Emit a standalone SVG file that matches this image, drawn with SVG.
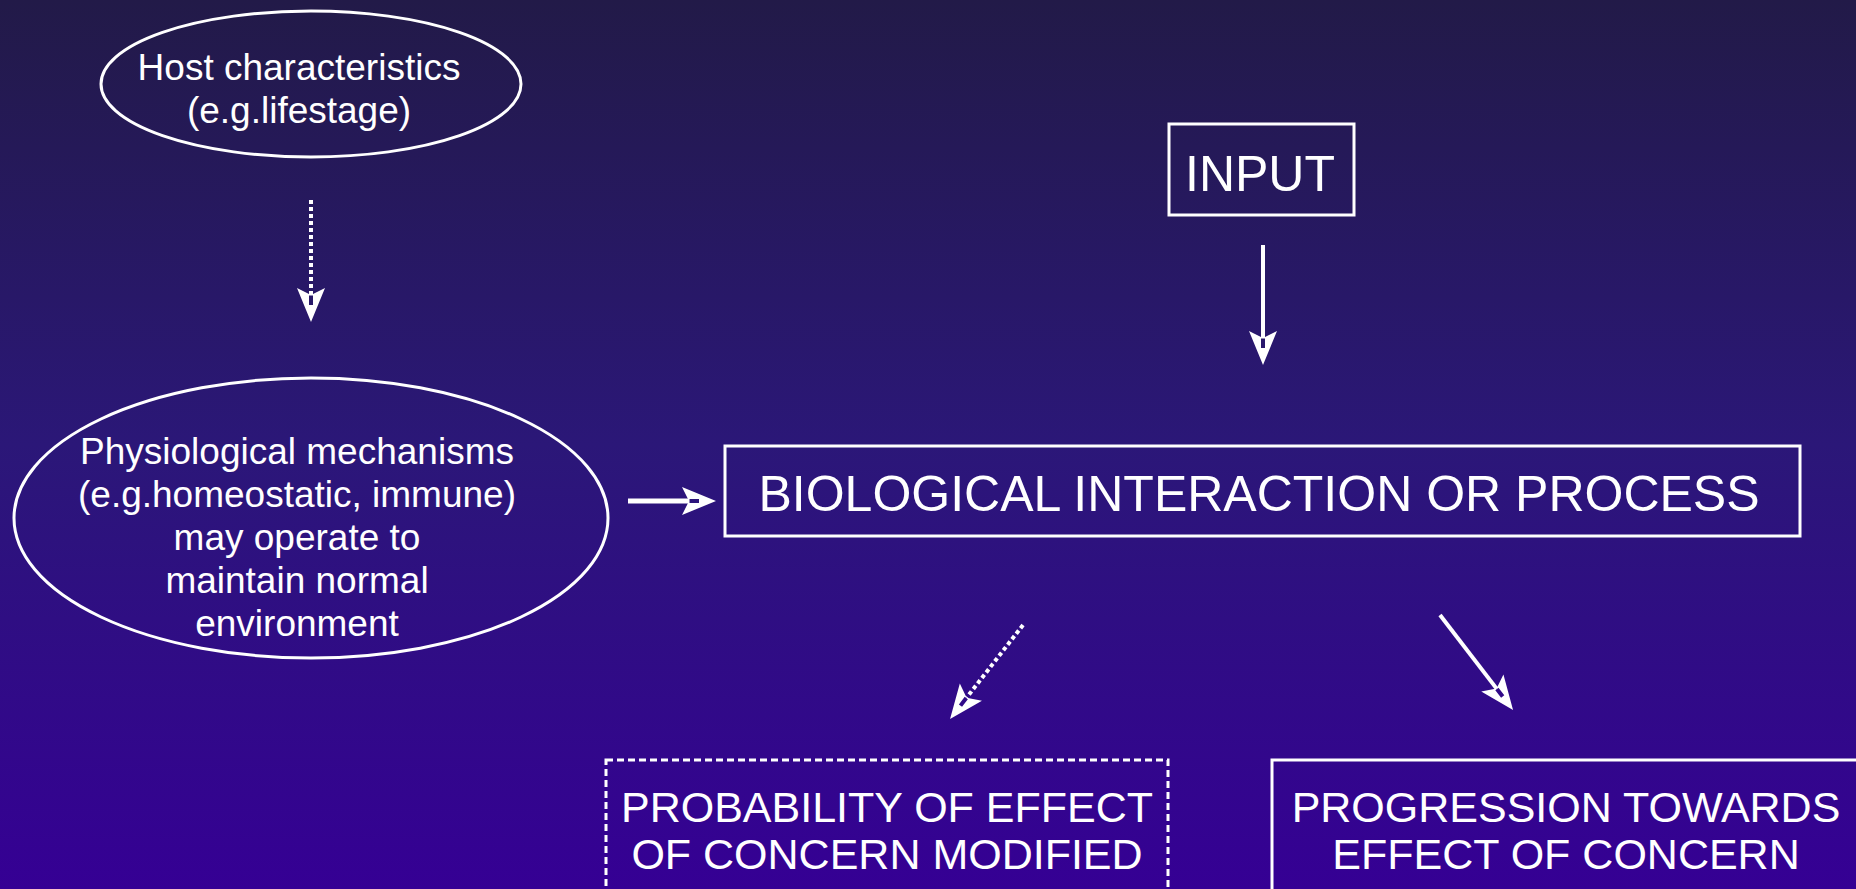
<svg xmlns="http://www.w3.org/2000/svg" width="1856" height="889" viewBox="0 0 1856 889">
  <defs>
    <linearGradient id="bg" x1="0" y1="0" x2="0" y2="1">
      <stop offset="0" stop-color="#221a48"/>
      <stop offset="0.5" stop-color="#2b1778"/>
      <stop offset="1" stop-color="#350094"/>
    </linearGradient>
    <marker id="head" markerUnits="userSpaceOnUse" markerWidth="60" markerHeight="60" refX="0" refY="0" orient="auto" overflow="visible">
      <path d="M27,0 L-7,-14 L0,0 L-7,14 Z M0.5,-2 L10,-2 L10,2 L0.5,2 Z" fill="#ffffff" fill-rule="evenodd"/>
    </marker>
    <style>
      .shape { fill: none; stroke: #ffffff; stroke-width: 3; }
      .dash { stroke-dasharray: 7 4; }
      .txt { fill: #ffffff; font-family: "Liberation Sans", Arial, sans-serif; text-anchor: middle; }
      .s37 { font-size: 37px; }
      .s50 { font-size: 50px; }
      .s43 { font-size: 43px; }
      .conn { fill: none; stroke: #ffffff; stroke-width: 4; marker-end: url(#head); }
      .dotted { stroke-dasharray: 4 3; }
    </style>
  </defs>
  <rect x="0" y="0" width="1856" height="889" fill="url(#bg)"/>

  <g id="host">
    <ellipse class="shape" cx="311" cy="84" rx="210" ry="73"/>
    <text class="txt s37" x="299" y="80">Host characteristics</text>
    <text class="txt s37" x="299" y="123">(e.g.lifestage)</text>
  </g>

  <g id="physio">
    <ellipse class="shape" cx="311" cy="518" rx="297" ry="140"/>
    <text class="txt s37" x="297" y="464">Physiological mechanisms</text>
    <text class="txt s37" x="297" y="507">(e.g.homeostatic, immune)</text>
    <text class="txt s37" x="297" y="550">may operate to</text>
    <text class="txt s37" x="297" y="593">maintain normal</text>
    <text class="txt s37" x="297" y="636">environment</text>
  </g>

  <g id="input">
    <rect class="shape" x="1169" y="124" width="185" height="91"/>
    <text class="txt s50" x="1260" y="191">INPUT</text>
  </g>

  <g id="process">
    <rect class="shape" x="725" y="446" width="1075" height="90"/>
    <text class="txt s50" x="1259" y="511">BIOLOGICAL INTERACTION OR PROCESS</text>
  </g>

  <g id="probability">
    <rect class="shape dash" x="606" y="760" width="562" height="150"/>
    <text class="txt s43" x="887" y="822">PROBABILITY OF EFFECT</text>
    <text class="txt s43" x="887" y="869">OF CONCERN MODIFIED</text>
  </g>

  <g id="progression">
    <rect class="shape" x="1272" y="760" width="600" height="150"/>
    <text class="txt s43" x="1566" y="822">PROGRESSION TOWARDS</text>
    <text class="txt s43" x="1566" y="869">EFFECT OF CONCERN</text>
  </g>

  <g id="connectors">
    <line class="conn dotted" x1="311" y1="200" x2="311" y2="295"/>
    <line class="conn" x1="1263" y1="245" x2="1263" y2="338"/>
    <line class="conn" style="stroke-width:5" x1="628" y1="501" x2="689" y2="501"/>
    <line class="conn dotted" x1="1023" y1="625" x2="966.6" y2="697.7"/>
    <line class="conn" x1="1440" y1="615" x2="1496.6" y2="688.6"/>
  </g>
</svg>
